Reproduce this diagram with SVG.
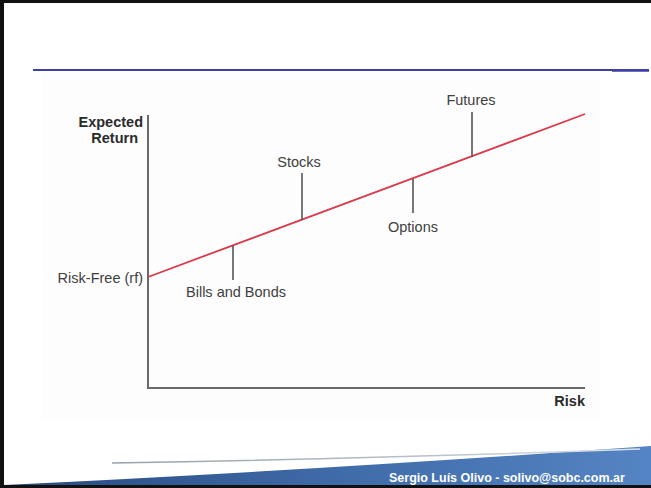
<svg xmlns="http://www.w3.org/2000/svg" width="651" height="488" viewBox="0 0 651 488">
<defs>
<linearGradient id="band" x1="0" y1="0" x2="1" y2="0">
<stop offset="0" stop-color="#27497f"/>
<stop offset="0.5" stop-color="#3f6aa8"/>
<stop offset="1" stop-color="#5584c4"/>
</linearGradient>
<linearGradient id="swoosh" x1="0" y1="0" x2="1" y2="0">
<stop offset="0" stop-color="#9aa0a8"/>
<stop offset="0.6" stop-color="#b8c0cc"/>
<stop offset="1" stop-color="#dde3ea"/>
</linearGradient>
<style>
.lbl{font-family:"Liberation Sans",Arial,sans-serif;font-size:14.5px;fill:#404040}
.bold{font-weight:bold;fill:#2a2a2a}
.tick{stroke:#555;stroke-width:1.6;fill:none}
.axis{stroke:#6a6a6a;stroke-width:2;fill:none}
</style>
</defs>
<rect width="651" height="488" fill="#ffffff"/>
<rect x="42" y="73" width="558" height="347" fill="#fdfdfd"/>
<!-- frame -->
<rect x="0" y="0" width="4" height="488" fill="#111"/>
<rect x="0" y="0" width="651" height="3" fill="#111"/>
<rect x="0" y="485" width="651" height="3" fill="#111"/>
<!-- title rule -->
<line x1="33" y1="70" x2="649" y2="70" stroke="#3b41a6" stroke-width="1.8"/>
<line x1="612" y1="70.5" x2="649" y2="70.5" stroke="#3b41a6" stroke-width="2.6"/>
<!-- footer -->
<path d="M4 485 Q 300 471 651 446 L651 485 Z" fill="url(#band)"/>
<path d="M112 463 Q 400 458 640 449" stroke="url(#swoosh)" stroke-width="1.6" fill="none"/>
<text x="389" y="482" style="font-family:'Liberation Sans',Arial,sans-serif;font-size:12.5px;font-weight:bold;fill:#ffffff">Sergio Luís Olivo - solivo@sobc.com.ar</text>
<!-- chart -->
<g id="axes">
<line class="axis" x1="148" y1="115" x2="148" y2="388"/>
<line class="axis" x1="147" y1="388" x2="585" y2="388"/>
<text class="lbl bold" x="143" y="127" text-anchor="end">Expected</text>
<text class="lbl bold" x="138" y="143" text-anchor="end">Return</text>
<text class="lbl bold" x="585" y="406" text-anchor="end">Risk</text>
</g>
<g id="sml">
<line x1="148" y1="277" x2="585" y2="114" stroke="#d93a4a" stroke-width="1.8"/>
<text class="lbl" x="143" y="283" text-anchor="end">Risk-Free (rf)</text>
</g>
<g id="connectors">
<line class="tick" x1="233" y1="245.5" x2="233" y2="280"/>
<line class="tick" x1="302" y1="173" x2="302" y2="220"/>
<line class="tick" x1="413" y1="179" x2="413" y2="213"/>
<line class="tick" x1="472" y1="112" x2="472" y2="157"/>
</g>
<g id="bills"><text class="lbl" x="236" y="297" text-anchor="middle">Bills and Bonds</text></g>
<g id="stocks"><text class="lbl" x="299" y="167" text-anchor="middle">Stocks</text></g>
<g id="options"><text class="lbl" x="413" y="232" text-anchor="middle">Options</text></g>
<g id="futures"><text class="lbl" x="471" y="105" text-anchor="middle">Futures</text></g>
</svg>
